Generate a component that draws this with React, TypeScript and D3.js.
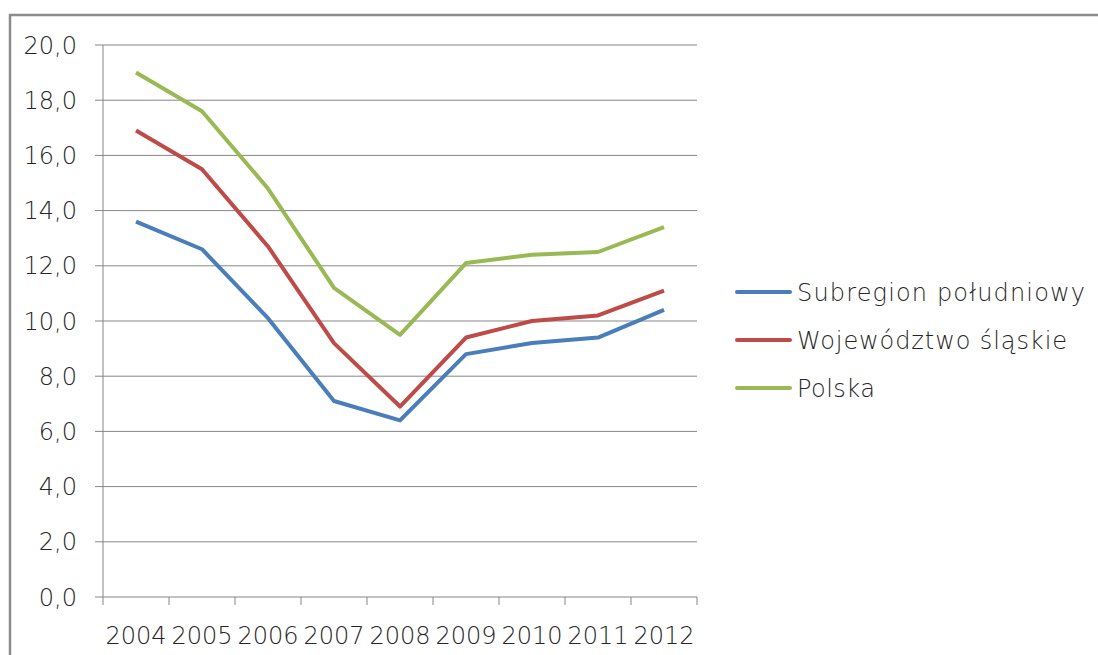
import React from "react";
import * as d3 from "d3";

const years = ["2004", "2005", "2006", "2007", "2008", "2009", "2010", "2011", "2012"];
const subregion = [13.6, 12.6, 10.1, 7.1, 6.4, 8.8, 9.2, 9.4, 10.4];
const wojewodztwo = [16.9, 15.5, 12.7, 9.2, 6.9, 9.4, 10.0, 10.2, 11.1];
const polska = [19.0, 17.6, 14.8, 11.2, 9.5, 12.1, 12.4, 12.5, 13.4];
const seriesNames = ["Subregion południowy", "Województwo śląskie", "Polska"];
const yTicks = [0, 2, 4, 6, 8, 10, 12, 14, 16, 18, 20];

const colors = ["#4a7ebb", "#be4b48", "#98b954"];
const font = "'DejaVu Sans', sans-serif";
const legendWidths = [288, 270, 78];

export default function App() {
  const W = 1098, H = 655;
  const left = 103, right = 697, top = 45, bottom = 597;
  const x = d3.scaleBand().domain(years).range([left, right]);
  const y = d3.scaleLinear().domain([0, 20]).range([bottom, top]);
  const line = d3
    .line<number>()
    .x((_, i) => (x(years[i]) as number) + x.bandwidth() / 2)
    .y((d) => y(d));
  const data = [subregion, wojewodztwo, polska];
  const fmt = (v: number) => v.toFixed(1).replace(".", ",");
  const xTickPos = years.map((yr) => x(yr) as number).concat([right]);

  return (
    <svg width={W} height={H} style={{ position: "absolute", left: 0, top: 0, background: "#fff" }}>
      <rect x={10} y={15} width={1200} height={800} fill="#fff" stroke="#8c8c8c" strokeWidth={2.5} />
      {yTicks.map((t) => (
        <g key={t}>
          <line x1={left - 8} x2={right} y1={y(t)} y2={y(t)} stroke="#868686" strokeWidth={1} />
          <text x={77} y={y(t)} dy="0.36em" textAnchor="end" fontFamily={font} fontSize={24} fontWeight={200} fill="#262626">
            {fmt(t)}
          </text>
        </g>
      ))}
      <line x1={left} x2={left} y1={top} y2={bottom} stroke="#868686" strokeWidth={1} />
      {xTickPos.map((p, i) => (
        <line key={i} x1={p} x2={p} y1={bottom} y2={bottom + 8} stroke="#868686" strokeWidth={1} />
      ))}
      {years.map((yr) => (
        <text
          key={yr}
          x={(x(yr) as number) + x.bandwidth() / 2}
          y={635}
          dy="0.36em"
          textAnchor="middle"
          fontFamily={font}
          fontSize={24}
          fontWeight={200}
          fill="#262626"
        >
          {yr}
        </text>
      ))}
      {data.map((s, i) => (
        <path key={i} d={line(s) || ""} fill="none" stroke={colors[i]} strokeWidth={4} strokeLinejoin="round" />
      ))}
      {seriesNames.map((n, i) => (
        <g key={n}>
          <line x1={737} x2={790} y1={292 + i * 48} y2={292 + i * 48} stroke={colors[i]} strokeWidth={4} strokeLinecap="round" />
          <text
            x={797}
            y={292 + i * 48}
            dy="0.36em"
            fontFamily={font}
            fontSize={24}
            fontWeight={200}
            fill="#262626"
            textLength={legendWidths[i]}
            lengthAdjust="spacing"
          >
            {n}
          </text>
        </g>
      ))}
    </svg>
  );
}
